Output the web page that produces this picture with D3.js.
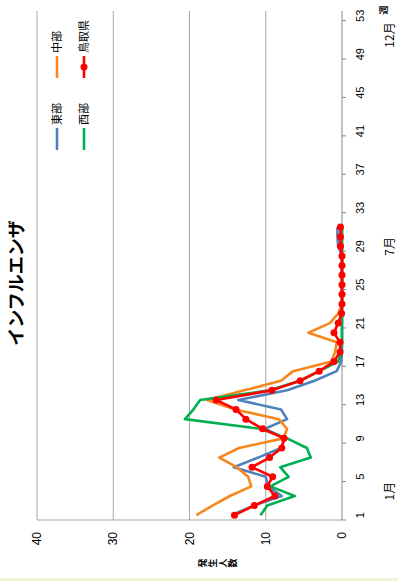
<!DOCTYPE html>
<html>
<head>
<meta charset="utf-8">
<script src="https://cdn.jsdelivr.net/npm/d3@7"></script>
<style>
  html, body { margin: 0; padding: 0; background: #fff; }
  svg { display: block; }
</style>
</head>
<body>
<svg id="chart" width="398" height="581"></svg>
<script>
// Weekly influenza reports per sentinel, Tottori prefecture (weeks 1-31)
const weeks = d3.range(1, 54);
const dataWeeks = d3.range(1, 32);
const seriesNames = ["東部", "中部", "西部", "鳥取県"];
const seriesColors = ["#4f81bd", "#f7861c", "#00b050", "#ff0000"];

const eastValues = [14.5, 11.6, 7.9, 9.7, 10.0, 14.2, 11.0, 8.0, 7.5, 10.1, 7.2, 8.0, 13.6, 7.2, 3.6, 0.7,
  0.1, 0, 0, 0, 0, 0, 0, 0, 0, 0, 0, 0, 0.5, 0.6, 0.6];
const centralValues = [19.1, 17.0, 14.7, 11.9, 12.3, 13.8, 16.1, 13.5, 7.7, 7.2, 8.3, 14.0, 17.7, 12.8, 8.0, 6.4,
  1.4, 0.9, 0.7, 4.4, 1.6, 0.5, 0, 0, 0, 0, 0, 0, 0, 0, 0];
const westValues = [10.7, 9.8, 6.2, 9.4, 7.0, 8.1, 4.1, 4.6, 7.2, 10.7, 20.6, 19.5, 18.6, 9.5, 5.5, 3.0,
  0.5, 0.1, 0, 0, 0, 0, 0, 0, 0, 0, 0, 0, 0, 0, 0];
const prefValues = [14.1, 11.5, 8.8, 9.8, 9.1, 11.8, 9.5, 7.9, 7.6, 10.4, 12.6, 13.9, 16.5, 9.2, 5.5, 3.0,
  1.05, 0.26, 0.26, 1.05, 0.5, 0.05, 0, 0, 0, 0, 0, 0, 0.2, 0.2, 0.2];

const valueTicks = [0, 10, 20, 30, 40];
const weekTickLabels = d3.range(1, 54, 4);
const monthLabels = [{ label: "1月", week: 3.5 }, { label: "7月", week: 29 }, { label: "12月", week: 51 }];

const W = 581, H = 398; // chart frame, drawn turned a quarter turn
const svg = d3.select("#chart");
const g = svg.append("g").attr("transform", `translate(0,${W}) rotate(-90)`);

const x = d3.scaleBand().domain(weeks).range([61, 570]);
const y = d3.scaleLinear().domain([0, 40]).range([342, 37]);
const cx = w => x(w) + x.bandwidth() / 2;
// continuous week position (for labels placed between weeks)
const wx = w => x.range()[0] + (w - 0.5) * x.step();

const numFont = "'Liberation Sans', Arial, sans-serif";
const jpFont = "'Noto Sans CJK JP', sans-serif";

// horizontal gridlines
g.append("g").selectAll("line").data(valueTicks.filter(v => v > 0)).join("line")
  .attr("x1", 61).attr("x2", 570)
  .attr("y1", d => y(d)).attr("y2", d => y(d))
  .attr("stroke", "#a6a6a6").attr("stroke-width", 1);

// value axis line
g.append("line").attr("x1", 61).attr("x2", 61).attr("y1", y(40)).attr("y2", y(0))
  .attr("stroke", "#a6a6a6").attr("stroke-width", 1);

// category axis line and ticks
g.append("line").attr("x1", 61).attr("x2", 570).attr("y1", y(0)).attr("y2", y(0))
  .attr("stroke", "#868686").attr("stroke-width", 1);
g.append("g").selectAll("line").data(d3.range(0, 53, 4)).join("line")
  .attr("x1", k => x.range()[0] + k * x.step()).attr("x2", k => x.range()[0] + k * x.step())
  .attr("y1", y(0)).attr("y2", y(0) + 4)
  .attr("stroke", "#868686");

// value tick labels
g.append("g").selectAll("text").data(valueTicks).join("text")
  .attr("x", 49).attr("y", d => y(d)).attr("dy", "0.35em")
  .attr("text-anchor", "end").attr("font-family", numFont).attr("font-size", 12)
  .text(d => d);

// week tick labels
g.append("g").selectAll("text").data(weekTickLabels).join("text")
  .attr("x", d => cx(d)).attr("y", 360).attr("dy", "0.35em")
  .attr("text-anchor", "middle").attr("font-family", numFont).attr("font-size", 11)
  .text(d => d);

// month labels
g.append("g").selectAll("text").data(monthLabels).join("text")
  .attr("x", d => wx(d.week)).attr("y", 390).attr("dy", "0.35em")
  .attr("text-anchor", "middle").attr("font-family", jpFont).attr("font-size", 12)
  .text(d => d.label);
g.append("text").attr("x", 571).attr("y", 384).attr("dy", "0.35em")
  .attr("text-anchor", "middle").attr("font-family", jpFont).attr("font-size", 9)
  .attr("font-weight", "bold").text("週");

// value axis title, stacked vertically
const axisTitle = "発生人数";
g.append("g").selectAll("text").data(axisTitle.split("")).join("text")
  .attr("x", 18).attr("y", (d, i) => 203 + i * 10).attr("dy", "0.35em")
  .attr("text-anchor", "middle").attr("font-family", jpFont).attr("font-size", 9)
  .attr("font-weight", "bold").text(d => d);

// chart title
g.append("text").attr("x", 298).attr("y", 17).attr("dy", "0.35em")
  .attr("text-anchor", "middle").attr("font-family", jpFont).attr("font-size", 18)
  .attr("font-weight", "bold").text("インフルエンザ");

// series lines
const allValues = [eastValues, centralValues, westValues, prefValues];
const line = d3.line().x(d => cx(d.week)).y(d => y(d.value));
allValues.forEach((vals, i) => {
  const pts = dataWeeks.map((w, j) => ({ week: w, value: vals[j] }));
  g.append("path").datum(pts).attr("d", line)
    .attr("fill", "none").attr("stroke", seriesColors[i]).attr("stroke-width", 2.6)
    .attr("stroke-linejoin", "round");
  if (i === 3) {
    g.append("g").selectAll("circle").data(pts).join("circle")
      .attr("cx", d => cx(d.week)).attr("cy", d => y(d.value)).attr("r", 3.5)
      .attr("fill", seriesColors[i]);
  }
});

// legend
const legendItems = seriesNames.map((name, i) => ({
  name, color: seriesColors[i],
  lx: i % 2 === 0 ? 431 : 503,
  ly: i < 2 ? 57 : 84
}));
const lg = g.append("g");
legendItems.forEach((d, i) => {
  lg.append("line").attr("x1", d.lx).attr("x2", d.lx + 22).attr("y1", d.ly).attr("y2", d.ly)
    .attr("stroke", d.color).attr("stroke-width", 2.6);
  if (i === 3) lg.append("circle").attr("cx", d.lx + 11).attr("cy", d.ly).attr("r", 3.5).attr("fill", d.color);
  lg.append("text").attr("x", d.lx + 25).attr("y", d.ly).attr("dy", "0.35em")
    .attr("font-family", jpFont).attr("font-size", 11).text(d.name);
});

// bottom band
svg.append("rect").attr("x", 0).attr("y", 578).attr("width", 398).attr("height", 3).attr("fill", "#f4f4d8");
</script>
</body>
</html>
